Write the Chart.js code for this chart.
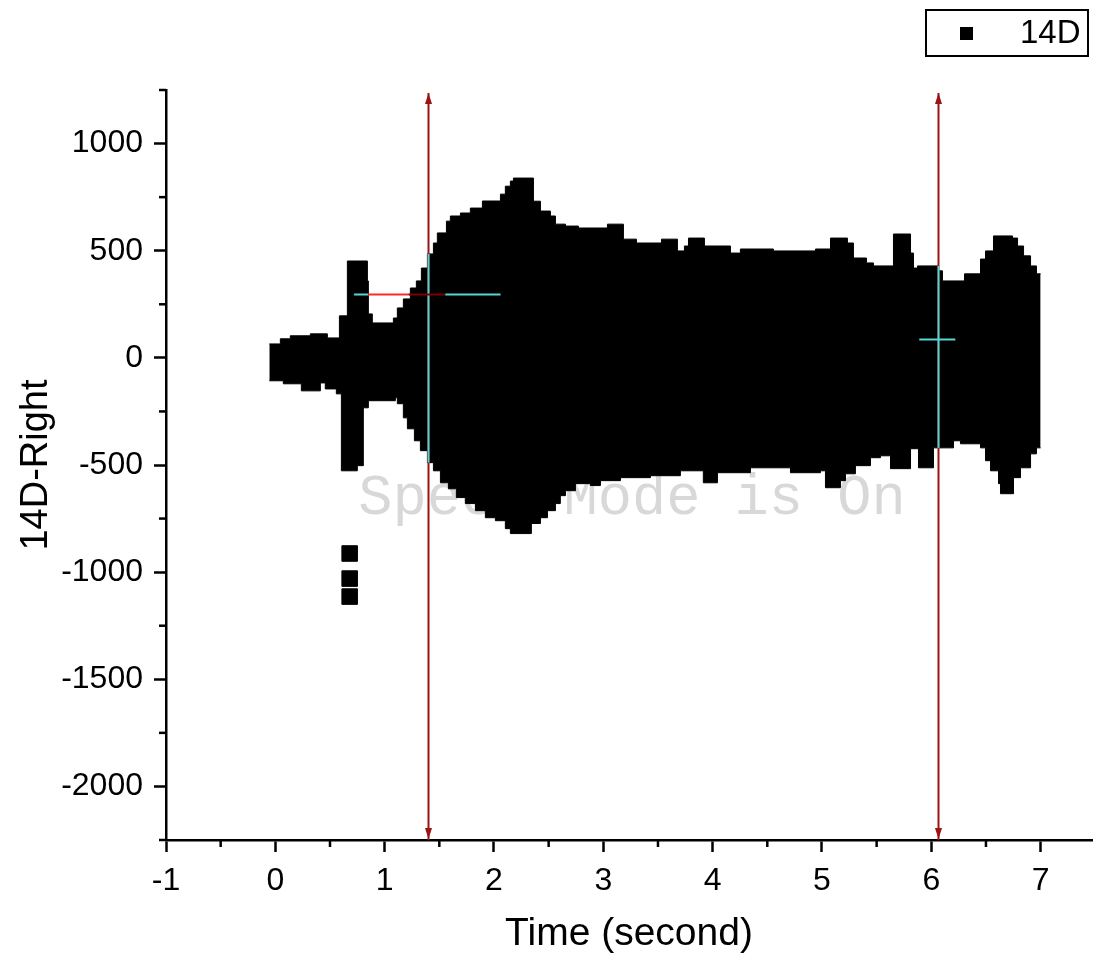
<!DOCTYPE html>
<html>
<head>
<meta charset="utf-8">
<script src="https://cdn.jsdelivr.net/npm/chart.js@4/dist/chart.umd.min.js"></script>
<style>
  html, body { margin: 0; padding: 0; background: #fff; }
</style>
</head>
<body>
<canvas id="wave_chart" width="1096" height="958"></canvas>
<script>
// envelope of the 14D-Right trace (speed mode draws it as a filled band)
const upperTime = [-0.055, 0.046, 0.137, 0.320, 0.476, 0.586, 0.659, 0.842, 0.851, 0.887,
    1.080, 1.116, 1.171, 1.235, 1.290, 1.336, 1.391, 1.446, 1.482, 1.565, 1.601, 1.693,
    1.784, 1.894, 2.059, 2.104, 2.150, 2.178, 2.361, 2.425, 2.516, 2.562, 2.654, 2.772,
    3.038, 3.184, 3.303, 3.532, 3.678, 3.742, 3.779, 3.925, 4.163, 4.254, 4.556, 4.941,
    5.078, 5.233, 5.288, 5.407, 5.471, 5.654, 5.810, 5.837, 5.874, 6.066, 6.102, 6.304,
    6.450, 6.496, 6.569, 6.743, 6.789, 6.844, 6.908, 6.962, 7.000];
const upperAmp = [65, 89, 103, 112, 93, 196, 452, 359, 205, 163,
    186, 233, 275, 326, 359, 419, 485, 536, 583, 638, 662, 676,
    699, 732, 764, 801, 825, 839, 731, 685, 662, 624, 615, 606,
    624, 554, 536, 554, 499, 522, 559, 522, 489, 508, 499, 508,
    559, 536, 466, 443, 429, 578, 489, 419, 429, 406, 359, 392,
    461, 499, 569, 559, 522, 476, 429, 392, 392];
const lowerTime = [-0.055, 0.073, 0.238, 0.412, 0.457, 0.558, 0.604, 0.750, 0.805, 0.851,
    1.098, 1.116, 1.171, 1.208, 1.272, 1.327, 1.391, 1.446, 1.510, 1.583, 1.656, 1.738,
    1.830, 1.921, 2.013, 2.104, 2.150, 2.342, 2.425, 2.489, 2.562, 2.607, 2.654, 2.745,
    2.882, 2.974, 3.157, 3.431, 3.705, 3.915, 4.044, 4.346, 4.712, 4.986, 5.032, 5.169,
    5.215, 5.306, 5.444, 5.535, 5.627, 5.810, 5.883, 6.020, 6.203, 6.267, 6.450, 6.496,
    6.542, 6.615, 6.633, 6.752, 6.816, 6.908, 6.962, 7.000];
const lowerAmp = [-107, -121, -154, -117, -145, -168, -527, -503, -233, -200,
    -186, -214, -280, -331, -387, -433, -489, -527, -583, -611, -652, -680,
    -713, -746, -760, -797, -820, -773, -746, -713, -680, -643, -620, -587,
    -596, -573, -559, -550, -527, -583, -536, -513, -536, -527, -606, -573,
    -541, -503, -466, -457, -517, -424, -513, -420, -387, -401, -420, -480,
    -527, -587, -634, -559, -513, -448, -420, -420];

// the three stray points below the trace
const outlierTime = [0.68, 0.68, 0.68];
const outlierAmp = [-913, -1030, -1114];

// data reader cursors
const cursorTime = [1.40, 6.06];
const cursorLevel = [300, 88];

const xMajor = 1, yMajor = 500;

function stepAt(times, amps, t) {
    let v = amps[0];
    for (let i = 0; i < times.length; i++) {
        if (times[i] <= t) v = amps[i];
    }
    return v;
}

const FONT = "'Liberation Sans', Arial, sans-serif";
const DARK_RED = '#9c1414';
const CYAN = '#52d6d6';

// minor ticks, cursors, legend box and the speed mode note
const decor = {
    id: 'decor',
    beforeDatasetsDraw(chart) {
        const { ctx, chartArea } = chart;
        ctx.save();
        ctx.fillStyle = '#d8d8d8';
        ctx.font = "57px 'Liberation Mono', 'Courier New', monospace";
        ctx.textAlign = 'center';
        ctx.textBaseline = 'alphabetic';
        ctx.fillText('Speed Mode is On', (chartArea.left + chartArea.right) / 2 + 3, chartArea.top + 424);
        ctx.restore();
    },
    afterDatasetsDraw(chart) {
        const { ctx, chartArea, scales: { x, y } } = chart;
        ctx.save();
        cursorTime.forEach((t, i) => {
            const px = Math.round(x.getPixelForValue(t)) + 0.5;
            const top = chartArea.top + 3, bottom = chartArea.bottom;
            ctx.strokeStyle = DARK_RED;
            ctx.fillStyle = DARK_RED;
            ctx.lineWidth = 2;
            ctx.beginPath();
            ctx.moveTo(px, top);
            ctx.lineTo(px, bottom);
            ctx.stroke();
            ctx.beginPath();
            ctx.moveTo(px, top);
            ctx.lineTo(px - 3.5, top + 11);
            ctx.lineTo(px + 3.5, top + 11);
            ctx.closePath();
            ctx.fill();
            ctx.beginPath();
            ctx.moveTo(px, bottom - 1);
            ctx.lineTo(px - 3.5, bottom - 12);
            ctx.lineTo(px + 3.5, bottom - 12);
            ctx.closePath();
            ctx.fill();
            // inside the black band the cursor shows inverted
            const yt = y.getPixelForValue(stepAt(upperTime, upperAmp, t));
            const yb = y.getPixelForValue(stepAt(lowerTime, lowerAmp, t));
            ctx.strokeStyle = CYAN;
            ctx.beginPath();
            ctx.moveTo(px, yt);
            ctx.lineTo(px, yb);
            ctx.stroke();
        });
        // horizontal cursor hairs
        const hair = (t0, t1, level, color) => {
            const py = Math.round(y.getPixelForValue(level)) + 0.5;
            ctx.strokeStyle = color;
            ctx.lineWidth = 2;
            ctx.beginPath();
            ctx.moveTo(x.getPixelForValue(t0), py);
            ctx.lineTo(x.getPixelForValue(t1), py);
            ctx.stroke();
        };
        hair(0.72, 0.851, cursorLevel[0], CYAN);
        hair(0.851, 1.217, cursorLevel[0], '#ff2a2a');
        hair(1.217, 1.555, cursorLevel[0], '#7a0000');
        hair(1.555, 2.06, cursorLevel[0], CYAN);
        hair(5.89, 6.22, cursorLevel[1], CYAN);
        ctx.restore();
    },
    afterDraw(chart) {
        const { ctx, scales } = chart;
        ctx.save();
        ctx.strokeStyle = '#000';
        ctx.lineWidth = 2.5;
        ['x', 'y'].forEach(id => {
            const s = scales[id];
            const major = id === 'x' ? xMajor : yMajor;
            s.ticks.forEach(tk => {
                if (Math.abs(tk.value / major - Math.round(tk.value / major)) < 1e-6) return;
                const p = s.getPixelForValue(tk.value);
                ctx.beginPath();
                if (id === 'x') {
                    ctx.moveTo(p, s.top);
                    ctx.lineTo(p, s.top + 7);
                } else {
                    ctx.moveTo(s.right, p);
                    ctx.lineTo(s.right - 7, p);
                }
                ctx.stroke();
            });
        });
        // legend box
        const ds = chart.data.datasets[0];
        ctx.lineWidth = 2;
        ctx.strokeRect(926, 10, 162, 46);
        ctx.fillStyle = '#000';
        ctx.fillRect(960, 27, 13, 13);
        ctx.font = '33px ' + FONT;
        ctx.textBaseline = 'middle';
        ctx.textAlign = 'left';
        ctx.fillText(ds.label, 1020, 34);
        ctx.restore();
    }
};

const ctx = document.getElementById('wave_chart');
const wave_chart = new Chart(ctx, {
    type: 'line',
    data: {
        datasets: [{
            label: '14D',
            data: outlierTime.map((t, i) => ({ x: t, y: outlierAmp[i] })),
            showLine: false,
            pointStyle: 'rect',
            pointRadius: 11,
            pointBackgroundColor: '#000',
            pointBorderColor: '#000',
            pointBorderWidth: 1
        }, {
            label: 'upper',
            data: upperTime.map((t, i) => ({ x: t, y: upperAmp[i] })),
            stepped: true,
            borderColor: '#000',
            borderWidth: 1,
            backgroundColor: '#000',
            pointRadius: 0,
            fill: '+1'
        }, {
            label: 'lower',
            data: lowerTime.map((t, i) => ({ x: t, y: lowerAmp[i] })),
            stepped: true,
            borderColor: '#000',
            borderWidth: 1,
            pointRadius: 0,
            fill: false
        }]
    },
    options: {
        responsive: false,
        animation: false,
        devicePixelRatio: 1,
        layout: { autoPadding: false, padding: { left: 0, right: 4, top: 90, bottom: 0 } },
        plugins: {
            legend: { display: false },
            tooltip: { enabled: false }
        },
        scales: {
            x: {
                type: 'linear',
                min: -1,
                max: 7.47,
                afterFit: s => { s.height = 118; },
                border: { display: true, color: '#000', width: 2.5 },
                grid: {
                    drawOnChartArea: false,
                    tickLength: 12,
                    tickWidth: 2.5,
                    tickColor: c => (Number.isInteger(c.tick.value) ? '#000' : 'rgba(0,0,0,0)')
                },
                ticks: {
                    stepSize: 0.5,
                    includeBounds: false,
                    autoSkip: false,
                    maxRotation: 0,
                    padding: 10,
                    color: '#000',
                    font: { family: FONT, size: 32 },
                    callback: v => (Number.isInteger(v) ? String(v) : '')
                },
                title: {
                    display: true,
                    text: 'Time (second)',
                    color: '#000',
                    font: { family: FONT, size: 39 },
                    padding: { top: 0, bottom: 0 }
                }
            },
            y: {
                type: 'linear',
                min: -2250,
                max: 1250,
                afterFit: s => { s.width = 166; },
                border: { display: true, color: '#000', width: 2.5 },
                grid: {
                    drawOnChartArea: false,
                    tickLength: 12,
                    tickWidth: 2.5,
                    tickColor: c => (c.tick.value % 500 === 0 ? '#000' : 'rgba(0,0,0,0)')
                },
                ticks: {
                    stepSize: 250,
                    autoSkip: false,
                    padding: 11,
                    color: '#000',
                    font: { family: FONT, size: 32 },
                    callback: v => (v % 500 === 0 ? String(v) : '')
                },
                title: {
                    display: true,
                    text: '14D-Right',
                    color: '#000',
                    font: { family: FONT, size: 38 },
                    padding: { top: 14, bottom: 0 }
                }
            }
        }
    },
    plugins: [decor]
});
</script>
</body>
</html>
